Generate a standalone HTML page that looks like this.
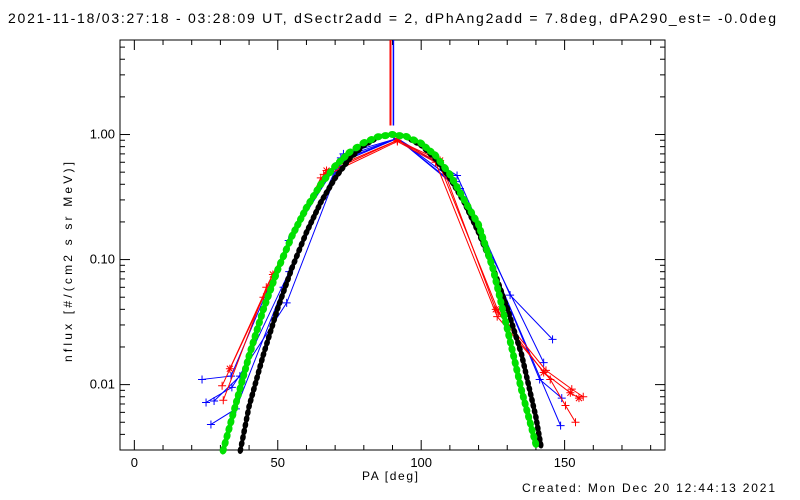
<!DOCTYPE html>
<html><head><meta charset="utf-8"><style>
body{margin:0;background:#fff}
svg{display:block;font-family:"Liberation Sans",sans-serif}
</style></head><body>
<svg id="chart" width="800" height="500" viewBox="0 0 800 500" xmlns="http://www.w3.org/2000/svg">
<rect width="800" height="500" fill="#fff"/>
<text x="8" y="23" font-size="14" textLength="768" lengthAdjust="spacing">2021-11-18/03:27:18 - 03:28:09 UT, dSectr2add = 2, dPhAng2add = 7.8deg, dPA290_est= -0.0deg</text>
<text transform="translate(72,262) rotate(-90)" font-size="12" text-anchor="middle" textLength="200" lengthAdjust="spacing">nflux [#/(cm2 s sr MeV)]</text>
<text x="390" y="480" font-size="12" text-anchor="middle" textLength="56" lengthAdjust="spacing">PA [deg]</text>
<text x="522" y="492" font-size="12" textLength="253" lengthAdjust="spacing">Created: Mon Dec 20 12:44:13 2021</text>
<g id="plot"></g>
</svg>
<script>
const xTicks=[0,50,100,150];
const yTicks=[0.01,0.1,1];
const yTickLabels=["0.01","0.10","1.00"];
const blackPA=[37,40,45,50,55,60,65,70,75,80,85,90,95,100,105,110,115,120,125,130,135,140,142];
const blackFlux=[0.003,0.0067,0.0174,0.0408,0.0863,0.165,0.287,0.449,0.638,0.819,0.951,1.0,0.951,0.819,0.638,0.449,0.287,0.165,0.0863,0.0408,0.0174,0.0055,0.003];
const greenPA=[31,35,40,45,50,55,60,65,70,75,80,85,90,95,100,105,110,115,120,125,130,135,140.5];
const greenFlux=[0.003,0.0065,0.017,0.04,0.083,0.155,0.26,0.4,0.56,0.72,0.86,0.96,1.0,0.96,0.85,0.68,0.48,0.3,0.19,0.085,0.028,0.009,0.003];
const seriesRedA_PA=[33.3,48.3,67,91.7,106.6,126,142.7,152,155];
const seriesRedA_F=[0.0134,0.076,0.515,0.9,0.62,0.04,0.0125,0.0086,0.0078];
const seriesRedB_PA=[30.6,45,65,91.7,105,126.5,145,150.3,153.8];
const seriesRedB_F=[0.0098,0.05,0.45,0.88,0.6,0.035,0.011,0.0068,0.005];
const seriesRedC_PA=[31,46,66,91.7,106,127,143.5,152.5,156.5];
const seriesRedC_F=[0.0075,0.06,0.48,0.9,0.6,0.038,0.013,0.0092,0.008];
const seriesBlueA_PA=[23.6,33.7,53.8,72.9,91.7,112.5,131,145.8];
const seriesBlueA_F=[0.011,0.0117,0.142,0.7,0.93,0.47,0.052,0.023];
const seriesBlueB_PA=[25,34,53.1,72,91.7,113.5,141.3,149];
const seriesBlueB_F=[0.0072,0.0095,0.045,0.6,0.93,0.37,0.011,0.0078];
const seriesBlueC_PA=[26.7,35.4,52,72,91.7,113.5,148.6];
const seriesBlueC_F=[0.0048,0.0064,0.06,0.62,0.93,0.36,0.0047];
const seriesBlueD_PA=[27.8,36.8,54,72,91.7,112,142.7];
const seriesBlueD_F=[0.0074,0.0117,0.08,0.65,0.93,0.42,0.015];
const spikePA=[89.3,89.8];
const spikeF=[1.18,1.18];

const NS="http://www.w3.org/2000/svg";
const L=120,R=665,T=40,B=450,XMIN=-5,XMAX=185,YMIN=0.003,YMAX=5.7;
const xs=v=>L+(v-XMIN)/(XMAX-XMIN)*(R-L);
const ys=v=>B-(Math.log10(v)-Math.log10(YMIN))/(Math.log10(YMAX)-Math.log10(YMIN))*(B-T);
const g=document.getElementById('plot');
function mk(t,a){const e=document.createElementNS(NS,t);for(const k in a)e.setAttribute(k,a[k]);g.appendChild(e);return e;}

const box=mk('rect',{x:L,y:T,width:R-L,height:B-T,fill:'none',stroke:'#000','stroke-width':1});


for(let v=0;v<=180;v+=10){
  const maj=v%50===0, len=maj?10:5, x=xs(v);
  const t1=mk('line',{x1:x,y1:B,x2:x,y2:B-len,stroke:'#000'});
  
  
  const t2=mk('line',{x1:x,y1:T,x2:x,y2:T+len,stroke:'#000'});
  
  
}
xTicks.forEach(v=>{
  const t=mk('text',{x:xs(v),y:B+17,'font-size':13,'text-anchor':'middle'});t.textContent=v;
  
  
});
for(let d=-3;d<=0;d++){for(let m=1;m<=9;m++){
  const v=m*Math.pow(10,d); if(v<YMIN||v>YMAX)continue;
  const len=m===1?10:5, y=ys(v);
  const t1=mk('line',{x1:L,y1:y,x2:L+len,y2:y,stroke:'#000'});
  
  
  const t2=mk('line',{x1:R,y1:y,x2:R-len,y2:y,stroke:'#000'});
  
  
}}
yTicks.forEach((v,i)=>{
  const t=mk('text',{x:L-5,y:ys(v)+4,'font-size':13,'text-anchor':'end'});t.textContent=yTickLabels[i];
  
  
});

function series(pa,f,color,marker,name){
  const pts=pa.map((p,i)=>xs(p)+','+ys(f[i])).join(' ');
  const pl=mk('polyline',{points:pts,fill:'none',stroke:color,'stroke-width':1});
  
  
  pa.forEach((p,i)=>{
    const x=xs(p),y=ys(f[i]);
    let d='M'+(x-4)+' '+y+'H'+(x+4)+'M'+x+' '+(y-4)+'V'+(y+4);
    if(marker==='star')d+='M'+(x-3)+' '+(y-3)+'L'+(x+3)+' '+(y+3)+'M'+(x-3)+' '+(y+3)+'L'+(x+3)+' '+(y-3);
    const m=mk('path',{d:d,stroke:color,'stroke-width':1,fill:'none'});
    
    
  });
}
series(seriesBlueA_PA,seriesBlueA_F,'#0000ff','plus','blue-series-a');
series(seriesBlueB_PA,seriesBlueB_F,'#0000ff','plus','blue-series-b');
series(seriesBlueC_PA,seriesBlueC_F,'#0000ff','plus','blue-series-c');
series(seriesBlueD_PA,seriesBlueD_F,'#0000ff','plus','blue-series-d');
series(seriesRedA_PA,seriesRedA_F,'#ff0000','star','red-series-a');
series(seriesRedB_PA,seriesRedB_F,'#ff0000','plus','red-series-b');
series(seriesRedC_PA,seriesRedC_F,'#ff0000','plus','red-series-c');

const sp1=mk('line',{x1:xs(spikePA[0]),y1:T,x2:xs(spikePA[0]),y2:ys(spikeF[0]),stroke:'#ff0000','stroke-width':2});


const sp2=mk('line',{x1:xs(spikePA[1])+1.5,y1:T,x2:xs(spikePA[1])+1.5,y2:ys(spikeF[1]),stroke:'#0000ff','stroke-width':1.5});



function dotted(pa,f,color,name,rx,ry,step){
  const grp=document.createElementNS(NS,'g');g.appendChild(grp);
  
  
  const pts=pa.map((p,i)=>[xs(p),ys(f[i])]);
  for(let i=0;i<pts.length-1;i++){
    const [x1,y1]=pts[i],[x2,y2]=pts[i+1];
    const len=Math.hypot(x2-x1,y2-y1),n=Math.max(1,Math.round(len/step));
    const ang=Math.atan2(y2-y1,x2-x1)*180/Math.PI;
    for(let k=0;k<n;k++){
      const t=k/n,x=x1+(x2-x1)*t,y=y1+(y2-y1)*t;
      const e=document.createElementNS(NS,'ellipse');
      e.setAttribute('cx',x);e.setAttribute('cy',y);e.setAttribute('rx',rx);e.setAttribute('ry',ry);
      e.setAttribute('transform','rotate('+ang+' '+x+' '+y+')');e.setAttribute('fill',color);
      
      
      grp.appendChild(e);
    }
  }
}
dotted(blackPA,blackFlux,'#000','black-fit-curve',4,2.8,6);
dotted(greenPA,greenFlux,'#00e000','green-fit-curve',4.5,3.5,7);
</script>
</body></html>
